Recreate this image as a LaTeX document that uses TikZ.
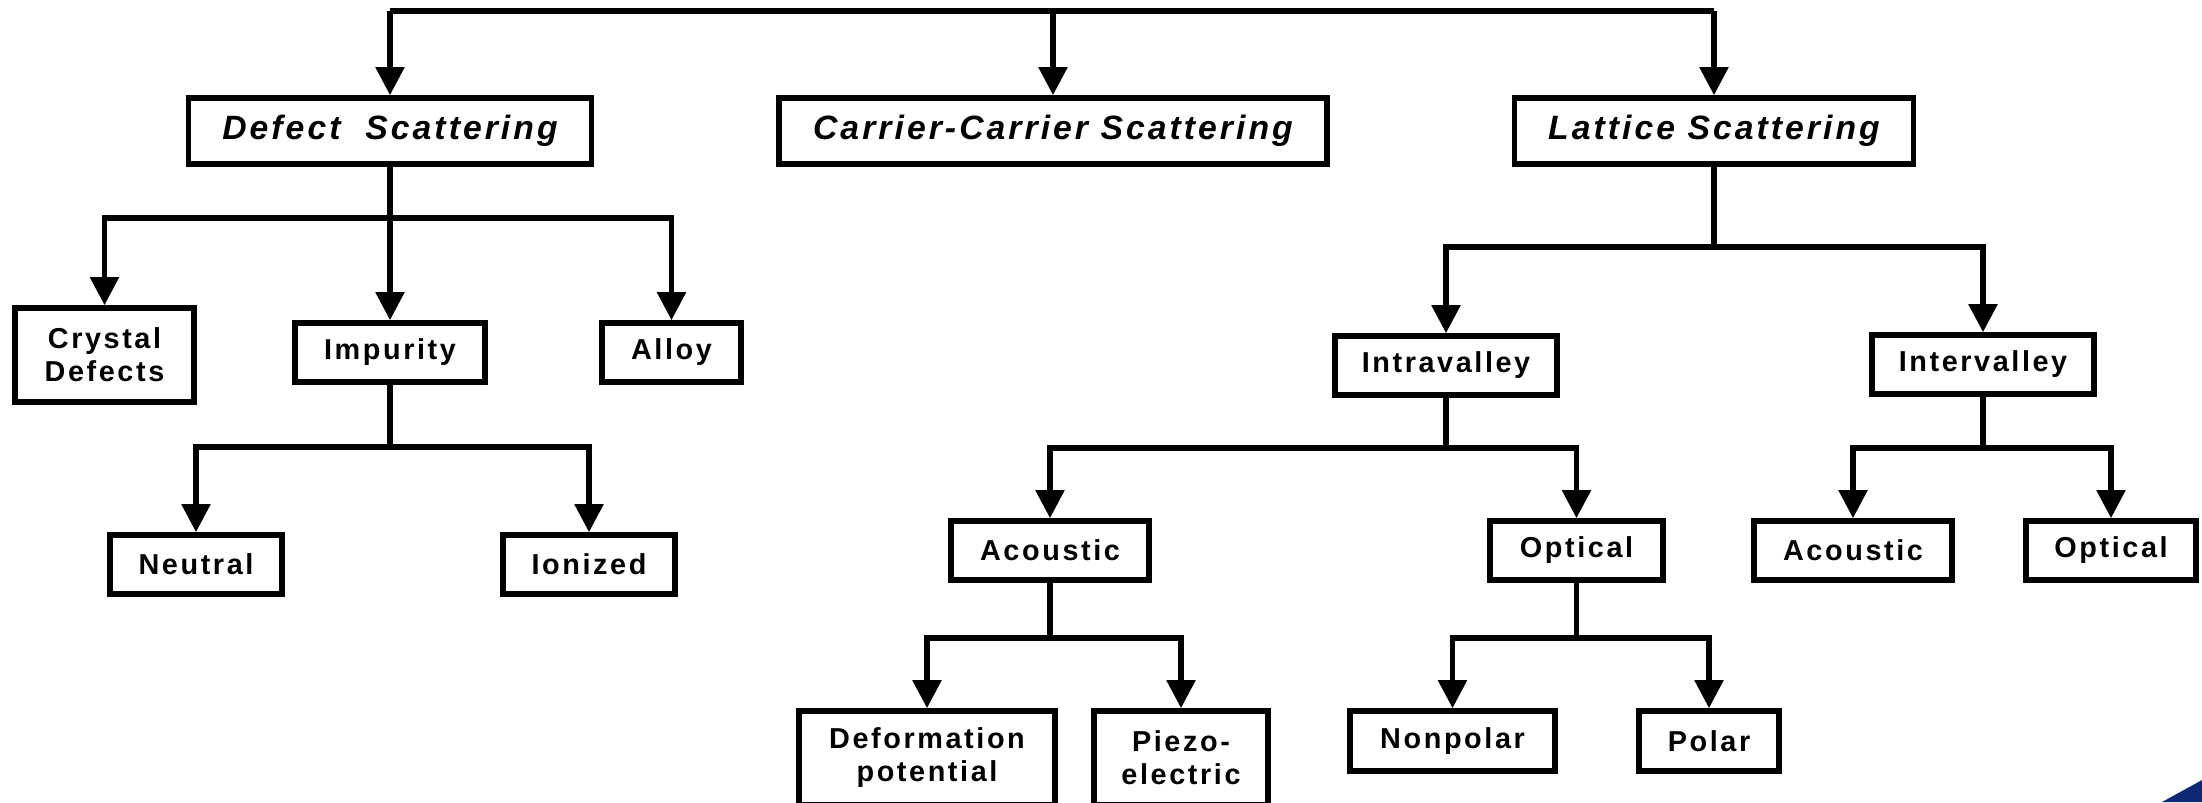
\documentclass[tikz,border=0pt]{standalone}
\usepackage{fontspec}
\setmainfont{Liberation Sans}
\newfontfamily\treefont[LetterSpace=9]{Liberation Sans}
\usepackage{xcolor}
\usepackage{tikz}
\usetikzlibrary{arrows.meta, positioning}
\definecolor{slideblue}{RGB}{14,40,115}

\begin{document}
\begin{tikzpicture}[
    topbox/.style={
        rectangle, draw=black, line width=1.6pt,
        minimum height=0.66cm, inner sep=0pt,
        font=\treefont\bfseries\itshape\fontsize{9.6}{11}\selectfont
    },
    leaf/.style={
        rectangle, draw=black, line width=1.6pt,
        minimum height=0.59cm, inner sep=0pt, align=center,
        font=\treefont\bfseries\fontsize{8.2}{9.4}\selectfont
    },
    link/.style={line width=1.5pt},
    arrow/.style={-{Triangle[length=8pt, width=8pt]}, line width=1.5pt},
]
\useasboundingbox (0,0) rectangle (22.02,-8.02);

%% Livello 1
\node[topbox, minimum width=4.03cm] (defect) at (3.90,-1.31) {Defect\ \ Scattering};
\node[topbox, minimum width=5.48cm] (carrier) at (10.53,-1.31) {Carrier-Carrier Scattering};
\node[topbox, minimum width=3.99cm] (lattice) at (17.14,-1.31) {Lattice Scattering};

%% Ramo difetti
\node[leaf, minimum width=1.79cm, minimum height=0.94cm] (crystal) at (1.045,-3.55) {Crystal\\Defects};
\node[leaf, minimum width=1.90cm] (impurity) at (3.90,-3.525) {Impurity};
\node[leaf, minimum width=1.39cm] (alloy) at (6.715,-3.525) {Alloy};
\node[leaf, minimum width=1.72cm] (neutral) at (1.96,-5.645) {Neutral};
\node[leaf, minimum width=1.72cm] (ionized) at (5.89,-5.645) {Ionized};

%% Ramo reticolo
\node[leaf, minimum width=2.22cm] (intra) at (14.46,-3.655) {Intravalley};
\node[leaf, minimum width=2.22cm] (inter) at (19.83,-3.645) {Intervalley};
\node[leaf, minimum width=1.98cm] (acou1) at (10.50,-5.505) {Acoustic};
\node[leaf, minimum width=1.73cm] (opt1) at (15.765,-5.505) {Optical};
\node[leaf, minimum width=1.98cm] (acou2) at (18.53,-5.505) {Acoustic};
\node[leaf, minimum width=1.70cm] (opt2) at (21.11,-5.505) {Optical};
\node[leaf, minimum width=2.56cm, minimum height=0.94cm] (deform) at (9.27,-7.58) {Deformation\\potential};
\node[leaf, minimum width=1.74cm, minimum height=0.94cm] (piezo) at (11.81,-7.58) {Piezo-\\electric};
\node[leaf, minimum width=2.05cm, minimum height=0.60cm] (nonpolar) at (14.525,-7.41) {Nonpolar};
\node[leaf, minimum width=1.40cm, minimum height=0.60cm] (polar) at (17.09,-7.41) {Polar};

%% Punti di diramazione
\coordinate (top) at (10.53,-0.11);
\coordinate (dbus) at (3.90,-2.18);
\coordinate (ibus) at (3.90,-4.47);
\coordinate (lbus) at (17.14,-2.47);
\coordinate (abus) at (14.46,-4.48);
\coordinate (ebus) at (19.83,-4.48);
\coordinate (cbus) at (10.50,-6.38);
\coordinate (obus) at (15.765,-6.38);

%% Frecce dall'alto
\draw[link] (defect.north |- top) -- (lattice.north |- top);
\draw[arrow] (defect.north |- top) -- (defect.north);
\draw[arrow] (carrier.north |- top) -- (carrier.north);
\draw[arrow] (lattice.north |- top) -- (lattice.north);

%% Frecce difetti
\draw[arrow] (defect.south) -- (impurity.north);
\draw[arrow] (dbus) -| (crystal.north);
\draw[arrow] (dbus) -| (alloy.north);
\draw[link] (impurity.south) -- (ibus);
\draw[arrow] (ibus) -| (neutral.north);
\draw[arrow] (ibus) -| (ionized.north);

%% Frecce reticolo
\draw[link] (lattice.south) -- (lbus);
\draw[arrow] (lbus) -| (intra.north);
\draw[arrow] (lbus) -| (inter.north);
\draw[link] (intra.south) -- (abus);
\draw[arrow] (abus) -| (acou1.north);
\draw[arrow] (abus) -| (opt1.north);
\draw[link] (inter.south) -- (ebus);
\draw[arrow] (ebus) -| (acou2.north);
\draw[arrow] (ebus) -| (opt2.north);
\draw[link] (acou1.south) -- (cbus);
\draw[arrow] (cbus) -| (deform.north);
\draw[arrow] (cbus) -| (piezo.north);
\draw[link] (opt1.south) -- (obus);
\draw[arrow] (obus) -| (nonpolar.north);
\draw[arrow] (obus) -| (polar.north);

%% Angolo blu
\fill[slideblue] (21.62,-8.02) .. controls (21.80,-7.92) and (21.95,-7.84) .. (22.02,-7.80) -- (22.02,-8.02) -- cycle;

\end{tikzpicture}
\end{document}
